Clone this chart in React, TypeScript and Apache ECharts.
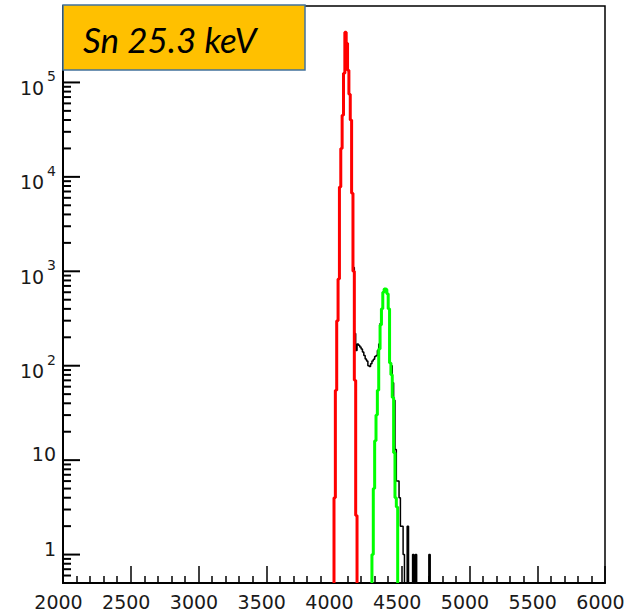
import React, { useEffect, useRef } from "react";
import * as echarts from "echarts";

const X_MIN = 2000;
const X_MAX = 6000;
const X_STEP = 500;
const Y_MIN = 0.5;
const Y_MAX = 6.45e5;
const BIN_WIDTH = 10;
const TITLE = "Sn 25.3 keV";

const MAJOR_Y_TICKS = [1, 10, 100, 1000, 10000, 100000];
const MINOR_Y_MULTIPLIERS = [2, 3, 4, 5, 6, 7, 8, 9];
const MINOR_Y_DECADES = [0.1, 1, 10, 100, 1000, 10000, 100000];

// measured spectrum (black), bins of 10 starting at 4000
const DATA_START = 4000;
const dataCounts = [
  4, 55, 300, 830, 7800, 20000, 45000, 125000, 340000, 260000,
  135000, 75000, 40000, 6700, 1100, 220, 145, 170, 165, 158,
  150, 140, 128, 118, 112, 100, 98, 105, 112, 117,
  125, 128, 145, 170, 280, 400, 600, 653, 640, 580,
  400, 107, 100, 66, 43, 13, 6, 6, 4, 2,
  2, 1, 0, 0, 2, 0, 0, 0, 1, 0,
  1, 0, 0, 0, 0, 0, 0, 0, 0, 0,
  1,
];

// red fitted peak
const RED_START = 4000;
const redCounts = [
  4, 55, 300, 830, 7800, 20000, 45000, 125000, 340000, 260000,
  135000, 75000, 40000, 6700, 1000, 70, 2.6,
];

// green fitted peak
const GREEN_START = 4280;
const greenCounts = [
  1, 5, 16, 30, 55, 150, 270, 400, 600, 650,
  640, 580, 400, 107, 80, 46, 12, 4, 3.2,
];

const lg = (v: number) => Math.log10(v);

// histogram outline, y in log10 space (log scale axis)
function outline(start: number, counts: number[]): number[][] {
  const pts: number[][] = [[start, lg(Y_MIN)]];
  counts.forEach((c, i) => {
    const v = lg(c > Y_MIN ? c : Y_MIN);
    pts.push([start + i * BIN_WIDTH, v], [start + (i + 1) * BIN_WIDTH, v]);
  });
  pts.push([start + counts.length * BIN_WIDTH, lg(Y_MIN)]);
  return pts;
}

const FONT = "DejaVu Sans";
const TXT = "#1a1a1a";
const GRID = { left: 63, right: 25, top: 6, bottom: 30 };

export default function App() {
  const ref = useRef<HTMLDivElement>(null);
  useEffect(() => {
    const chart = echarts.init(ref.current!, null, { renderer: "svg" });
    const majorTicks = MAJOR_Y_TICKS.map(lg);
    const titleGraphic = [
      {
        type: "rect",
        id: "titleBox",
        z: 100,
        shape: { x: 63, y: 5, width: 242, height: 65 },
        style: { fill: "#FFC000", stroke: "#41719C", lineWidth: 1.5 },
      },
      {
        type: "text",
        id: "titleText",
        z: 101,
        x: 83,
        y: 39,
        style: {
          text: TITLE,
          fontFamily: "Lato",
          fontStyle: "italic",
          fontSize: 35,
          fill: "#000",
          verticalAlign: "middle",
        },
      },
    ];
    chart.setOption({
      animation: false,
      grid: {
        ...GRID,
        show: true,
        borderColor: "#000",
        borderWidth: 1.5,
      },
      xAxis: {
        type: "value",
        min: X_MIN,
        max: X_MAX,
        interval: X_STEP,
        axisLine: { onZero: false, lineStyle: { color: "#000", width: 2 } },
        axisTick: { inside: true, length: 17, lineStyle: { color: "#000", width: 1.5 } },
        minorTick: { show: true, splitNumber: 5, length: 7, lineStyle: { color: "#000", width: 1.5 } },
        axisLabel: {
          fontFamily: FONT,
          fontSize: 19,
          color: TXT,
          margin: 9,
          padding: [0, 9, 0, 0],
          showMinLabel: true,
          showMaxLabel: true,
          formatter: (v: number) => String(v),
        },
        splitLine: { show: false },
      },
      yAxis: {
        type: "value",
        min: lg(Y_MIN),
        max: lg(Y_MAX),
        position: "left",
        splitLine: { show: false },
        axisLine: { show: true, onZero: false, lineStyle: { color: "#000", width: 2 } },
        axisTick: { show: false },
        axisLabel: {
          customValues: majorTicks,
          margin: 7,
          formatter: (v: number) => {
            const n = Math.round(v);
            if (n >= 2) return `{b|10}{e|${n}}`;
            return `{p|${n === 1 ? "10" : "1"}}`;
          },
          rich: {
            b: { fontFamily: FONT, fontSize: 19, color: TXT, padding: [11, 0, 0, 0], verticalAlign: "bottom" },
            e: { fontFamily: FONT, fontSize: 14, color: TXT, padding: [2, 0, 0, 3], verticalAlign: "top" },
            p: { fontFamily: FONT, fontSize: 19, color: TXT, padding: [0, 0, 12, 0], verticalAlign: "top" },
          },
        },
      },
      series: [
        {
          type: "line",
          name: "data",
          data: outline(DATA_START, dataCounts),
          showSymbol: false,
          symbol: "none",
          lineStyle: { color: "#000", width: 1.5 },
          clip: true,
          z: 2,
        },
        {
          type: "line",
          name: "peak 1",
          data: outline(GREEN_START, greenCounts),
          showSymbol: false,
          symbol: "none",
          lineStyle: { color: "#00ff00", width: 3 },
          clip: true,
          z: 3,
        },
        {
          type: "line",
          name: "peak 0",
          data: outline(RED_START, redCounts),
          showSymbol: false,
          symbol: "none",
          lineStyle: { color: "#ff0000", width: 3 },
          clip: true,
          z: 3,
        },
      ],
      graphic: titleGraphic,
    });

    // y-axis ticks (log decades + 2..9 minors), placed through the chart's own scale
    const tickEls: any[] = [];
    const addTick = (v: number, len: number, id: string) => {
      const p = chart.convertToPixel({ gridIndex: 0 }, [X_MIN, lg(v)]) as number[];
      if (!p) return;
      tickEls.push({
        type: "line",
        id,
        z: 50,
        silent: true,
        shape: { x1: p[0], y1: p[1], x2: p[0] + len, y2: p[1] },
        style: { stroke: "#000", lineWidth: 2 },
      });
    };
    MAJOR_Y_TICKS.forEach((v, i) => addTick(v, 17, "maj" + i));
    MINOR_Y_DECADES.forEach((d, i) =>
      MINOR_Y_MULTIPLIERS.forEach((m, j) => {
        const v = d * m;
        if (v > Y_MIN && v < Y_MAX) addTick(v, 8, "min" + i + "_" + j);
      })
    );
    chart.setOption({ graphic: [...tickEls, ...titleGraphic] });

    return () => chart.dispose();
  }, []);
  return (
    <div
      ref={ref}
      style={{ position: "fixed", left: 0, top: 0, width: 630, height: 613, background: "#fff" }}
    />
  );
}
